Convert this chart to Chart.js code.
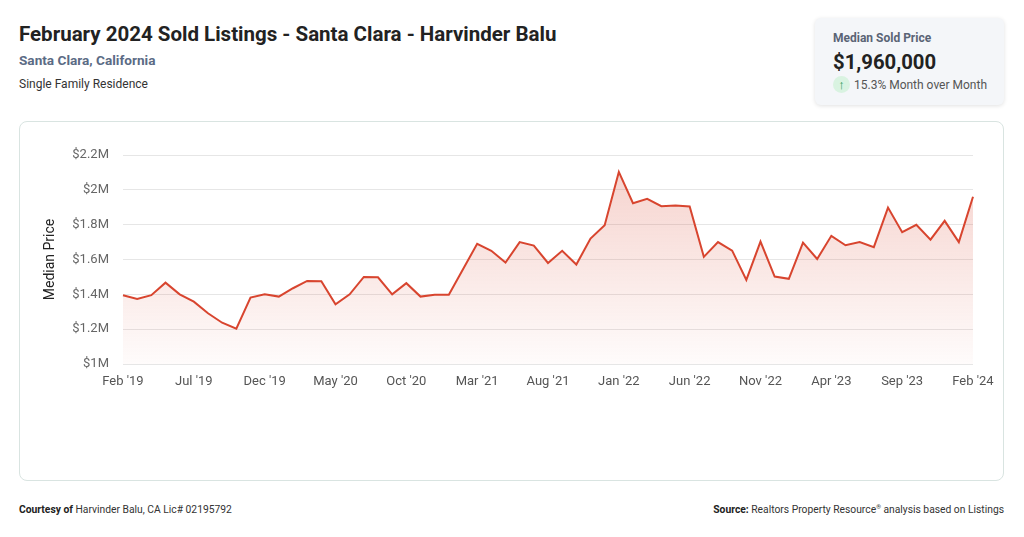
<!DOCTYPE html>
<html lang="en">
<head>
    <meta charset="UTF-8">
    <title>February 2024 Sold Listings - Santa Clara</title>
    <script src="https://cdn.jsdelivr.net/npm/chart.js"></script>
    <style>
        body {
            margin: 0;
            width: 1024px;
            height: 537px;
            background: #ffffff;
            font-family: Roboto, 'Noto Sans', sans-serif;
            position: relative;
            overflow: hidden;
        }
        .title {
            position: absolute; left: 19px; top: 22px;
            font-size: 20.5px; font-weight: 700; color: #222;
        }
        .subtitle {
            position: absolute; left: 19px; top: 52px;
            font-size: 13.6px; font-weight: 700; color: #5b6b85;
        }
        .type {
            position: absolute; left: 19px; top: 77px;
            font-size: 12px; color: #333;
        }
        .stat-box {
            position: absolute; left: 815px; top: 18px;
            width: 189px; height: 87px;
            background: #f4f6f9;
            border-radius: 6px;
            box-shadow: 0 1px 4px rgba(0, 0, 0, 0.12);
        }
        .stat-label { position: absolute; left: 18px; top: 13px; font-size: 12px; font-weight: 700; color: #5a6475; }
        .stat-value { position: absolute; left: 18px; top: 32px; font-size: 20.3px; font-weight: 700; color: #222; }
        .stat-change { position: absolute; left: 18px; top: 60px; font-size: 12px; color: #555; }
        .arrow {
            display: inline-block; width: 17px; height: 17px; border-radius: 50%;
            background: #d9f3e1; color: #2d9a57; text-align: center;
            line-height: 17px; font-size: 13px; font-weight: 700; margin-right: 4px;
            vertical-align: middle; margin-top: -2px;
        }
        .card {
            position: absolute; left: 19px; top: 121px;
            width: 983px; height: 358px;
            border: 1px solid #d9e4e1;
            border-radius: 8px;
        }
        .foot { position: absolute; top: 503px; font-size: 10.3px; color: #333; }
        .foot b { color: #222; }
    </style>
</head>
<body>
    <div class="title">February 2024 Sold Listings - Santa Clara - Harvinder Balu</div>
    <div class="subtitle">Santa Clara, California</div>
    <div class="type">Single Family Residence</div>

    <div class="stat-box">
        <div class="stat-label">Median Sold Price</div>
        <div class="stat-value">$1,960,000</div>
        <div class="stat-change"><span class="arrow">↑</span>15.3% Month over Month</div>
    </div>

    <div class="card"></div>
    <div style="position:absolute;left:19px;top:121px;width:985px;height:360px;">
        <canvas id="chart" width="985" height="360"></canvas>
    </div>

    <div class="foot" style="left:19px;"><b>Courtesy of</b> Harvinder Balu, CA Lic# 02195792</div>
    <div class="foot" style="right:20px;"><b>Source:</b> Realtors Property Resource<sup style="font-size:6px">®</sup> analysis based on Listings</div>

    <script>
        // months Feb '19 .. Feb '24
        const monthNames = ['Jan', 'Feb', 'Mar', 'Apr', 'May', 'Jun', 'Jul', 'Aug', 'Sep', 'Oct', 'Nov', 'Dec'];
        const months = [];
        for (let i = 0; i < 61; i++) {
            const m = (1 + i) % 12;
            const y = 19 + Math.floor((1 + i) / 12);
            months.push(monthNames[m] + " '" + y);
        }

        // median sold price (USD)
        const prices2019 = [1395000, 1374000, 1395000, 1467000, 1400000, 1358000, 1291000, 1237000, 1203000, 1381000, 1400000];
        const prices2020 = [1387000, 1435000, 1477000, 1475000, 1343000, 1400000, 1500000, 1498000, 1400000, 1464000, 1387000, 1398000];
        const prices2021 = [1398000, 1544000, 1690000, 1650000, 1582000, 1700000, 1680000, 1580000, 1650000, 1571000, 1720000, 1797000];
        const prices2022 = [2103000, 1923000, 1948000, 1906000, 1910000, 1904000, 1615000, 1700000, 1651000, 1483000, 1703000, 1502000];
        const prices2023 = [1489000, 1697000, 1603000, 1736000, 1682000, 1700000, 1671000, 1898000, 1757000, 1799000, 1714000, 1822000];
        const prices2024 = [1700000, 1960000];
        const prices = [...prices2019, ...prices2020, ...prices2021, ...prices2022, ...prices2023, ...prices2024];

        const yMin = 1000000;
        const yMax = 2200000;
        const yStep = 200000;

        function money(v) {
            return '$' + parseFloat((v / 1000000).toFixed(1)) + 'M';
        }

        new Chart(document.getElementById('chart'), {
            type: 'line',
            data: {
                labels: months,
                datasets: [{
                    data: prices,
                    borderColor: '#d8452f',
                    borderWidth: 2,
                    pointRadius: 0,
                    tension: 0,
                    fill: 'start',
                    backgroundColor: (ctx) => {
                        const area = ctx.chart.chartArea;
                        if (!area) return 'rgba(216,69,47,0.15)';
                        const g = ctx.chart.ctx.createLinearGradient(0, area.top, 0, area.bottom);
                        g.addColorStop(0, 'rgba(216,69,47,0.25)');
                        g.addColorStop(1, 'rgba(216,69,47,0.02)');
                        return g;
                    }
                }]
            },
            options: {
                responsive: false,
                animation: false,
                layout: { padding: { left: 19, right: 31, top: 34, bottom: 0 } },
                plugins: { legend: { display: false }, tooltip: { enabled: false } },
                scales: {
                    x: {
                        grid: { display: false, drawTicks: false },
                        border: { display: false },
                        ticks: {
                            autoSkip: false,
                            maxRotation: 0,
                            padding: 10,
                            color: '#555',
                            font: { family: 'Roboto', size: 13 },
                            callback: (v, i) => (i % 5 === 0 ? months[i] : '')
                        },
                        afterFit: (s) => { s.height = 117; }
                    },
                    y: {
                        min: yMin,
                        max: yMax,
                        grid: { color: '#e6e6e6', drawTicks: false },
                        border: { display: false },
                        ticks: {
                            stepSize: yStep,
                            padding: 14,
                            color: '#666',
                            font: { family: 'Roboto', size: 13 },
                            callback: (v) => money(v)
                        },
                        title: {
                            display: true,
                            text: 'Median Price',
                            color: '#222',
                            font: { family: 'Roboto', size: 14 }
                        },
                        afterFit: (s) => { s.width = 85; }
                    }
                }
            }
        });
    </script>
</body>
</html>
